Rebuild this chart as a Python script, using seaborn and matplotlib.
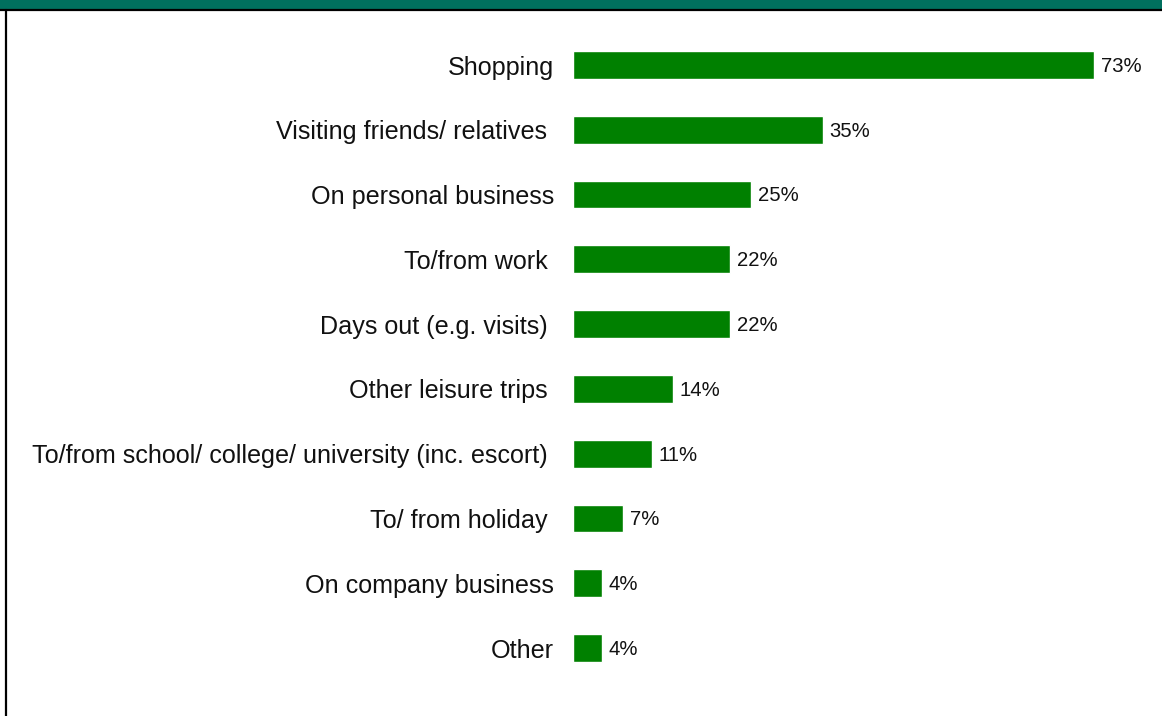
import matplotlib
matplotlib.use("Agg")
import matplotlib.pyplot as plt
from matplotlib.patches import Rectangle
from matplotlib.lines import Line2D
import seaborn as sns
import pandas as pd

purposes = [
    "Shopping",
    "Visiting friends/ relatives ",
    "On personal business",
    "To/from work ",
    "Days out (e.g. visits) ",
    "Other leisure trips ",
    "To/from school/ college/ university (inc. escort) ",
    "To/ from holiday ",
    "On company business",
    "Other",
]
shares = [73, 35, 25, 22, 22, 14, 11, 7, 4, 4]

df = pd.DataFrame({"purpose": purposes, "share": shares})

sns.set_theme(style="white")
plt.rcParams["font.family"] = ["Liberation Sans", "DejaVu Sans"]

W, H, DPI = 1162, 716, 100
fig = plt.figure(figsize=(W / DPI, H / DPI), dpi=DPI)
fig.patch.set_facecolor("white")

# axes placed in pixel terms: left edge at bar origin
left_px, right_px = 573, 1162
top_px, bottom_px = 11, 716
ax = fig.add_axes([left_px / W, 1 - bottom_px / H,
                   (right_px - left_px) / W, (bottom_px - top_px) / H])

sns.barplot(data=df, x="share", y="purpose", color="#008000",
            saturation=1, width=0.43, ax=ax, orient="h")

px_per_pct = (1094 - 573) / 73
ax.set_xlim(0, (right_px - left_px) / px_per_pct)
step = (648 - 65) / 9
ax.set_ylim(9 + (bottom_px - 648) / step, -(65 - top_px) / step)

for i, v in enumerate(shares):
    ax.annotate(f"{v}%", xy=(v, i), xytext=(5, -1), textcoords="offset points",
                va="center", ha="left", fontsize=14.6, color="#111111")

ax.set_xlabel("")
ax.set_ylabel("")
ax.set_xticks([])
ax.tick_params(axis="y", length=0, pad=13.5, labelsize=18.1, labelcolor="#111111")
for s in ax.spines.values():
    s.set_visible(False)
ax.patch.set_alpha(0)

# header band and frame lines
fig.patches.append(Rectangle((0, 1 - 9 / H), 1, 9 / H, transform=fig.transFigure,
                             facecolor="#00705e", edgecolor="none", zorder=5))
fig.lines.append(Line2D([0, 1], [1 - 10 / H, 1 - 10 / H], transform=fig.transFigure,
                        color="black", linewidth=1.6, zorder=6))
fig.lines.append(Line2D([5.5 / W, 5.5 / W], [0, 1 - 10 / H], transform=fig.transFigure,
                        color="black", linewidth=1.6, zorder=6))

fig.savefig("out.png", dpi=DPI)
